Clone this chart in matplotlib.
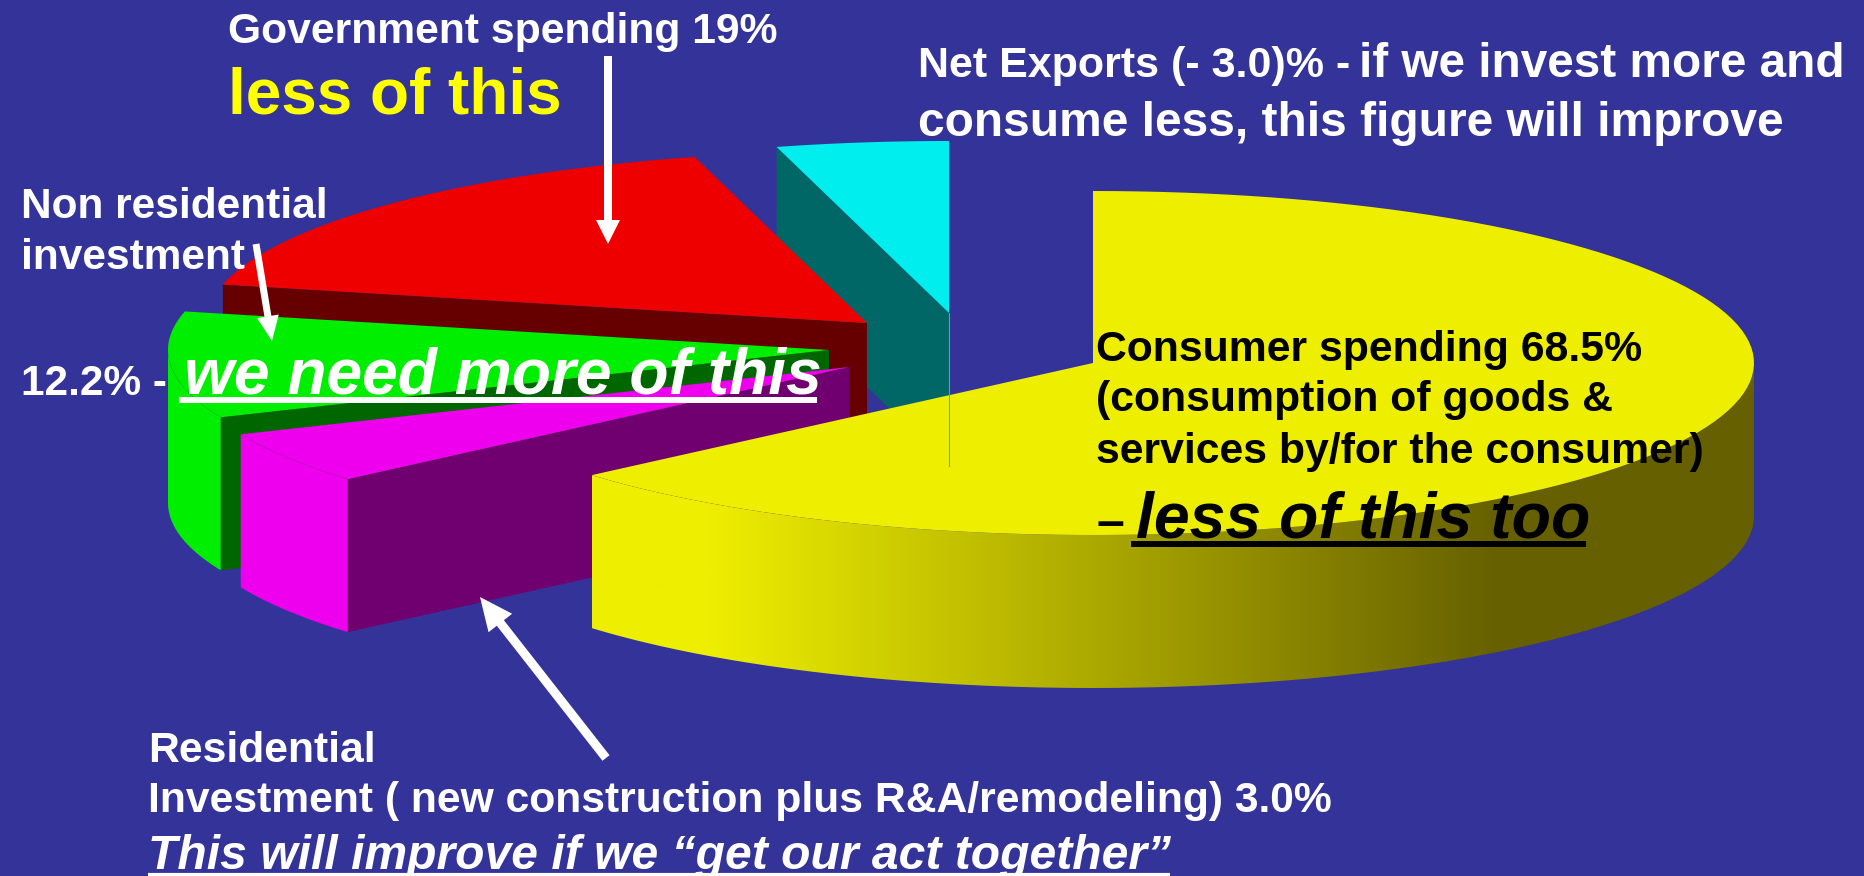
import numpy as np
import matplotlib
matplotlib.use("Agg")
import matplotlib.pyplot as plt
from matplotlib.colors import LinearSegmentedColormap

plt.rcParams['font.family'] = ['Liberation Sans', 'DejaVu Sans']

# slices clockwise from 12 o'clock, shares as drawn in the picture (percent of the circle)
categories = ['Consumer spending', 'Residential investment', 'Non residential investment',
              'Government spending', 'Net exports']
shares = [63.7, 4.9, 10.0, 17.2, 4.2]
top_colors = ['#EEEE00', '#EE00EE', '#00EE00', '#EE0000', '#00EEEE']
side_colors = ['#666000', '#700070', '#006600', '#660000', '#006666']
explode_x = [0, -244, -264, -226, -144]
explode_y = [0, 4, -13, -40, -50]

BG = '#333399'
CX, CY = 1093, 363
RX, RY = 661, 172
DEPTH = 153


def arc(a1, a2, cx, cy, n=120):
    a = np.radians(np.linspace(a1, a2, n))
    return cx + RX * np.sin(a), cy - RY * np.cos(a)


fig = plt.figure(figsize=(18.64, 8.76), dpi=100, facecolor=BG)
ax = fig.add_axes([0, 0, 1, 1])
ax.set_xlim(0, 1864)
ax.set_ylim(876, 0)
ax.axis('off')

ends = np.cumsum(shares) / sum(shares) * 360
starts = np.concatenate([[0], ends[:-1]])

# painter's order, back slices first
for i in [4, 3, 2, 1, 0]:
    cx, cy = CX + explode_x[i], CY + explode_y[i]
    a1, a2 = starts[i], ends[i]

    # cut face on the start side
    if i > 0:
        ox, oy = arc(a1, a1, cx, cy, 1)
        ax.fill([cx, ox[0], ox[0], cx], [cy, oy[0], oy[0] + DEPTH, cy + DEPTH],
                color=side_colors[i], lw=0, zorder=2)

    # outer rim, only the part facing the viewer
    r1, r2 = max(a1, 90), min(a2, 270)
    if r1 < r2:
        rx, ry = arc(r1, r2, cx, cy)
        px = np.concatenate([rx, rx[::-1]])
        py = np.concatenate([ry, ry[::-1] + DEPTH])
        if i == 0:
            poly = ax.fill(px, py, color='none', lw=0, zorder=2)[0]
            cmap = LinearSegmentedColormap.from_list(
                'rim', [(0, '#EEEE00'), (0.1, '#EEEE00'), (0.78, '#666000'), (1, '#666000')])
            im = ax.imshow(np.linspace(0, 1, 512).reshape(1, -1), cmap=cmap, aspect='auto',
                           extent=(px.min(), px.max(), py.max(), py.min()), zorder=2)
            im.set_clip_path(poly)
            ax.set_xlim(0, 1864)
            ax.set_ylim(876, 0)
        else:
            ax.fill(px, py, color=top_colors[i], lw=0, zorder=2)

    tx, ty = arc(a1, a2, cx, cy)
    ax.fill(np.concatenate([[cx], tx]), np.concatenate([[cy], ty]),
            color=top_colors[i], lw=0, zorder=3)

# thin seam of the net exports slice that shows through the yellow
nx, ny = CX + explode_x[4], CY + explode_y[4]
ax.plot([nx, nx], [ny, ny + DEPTH], color='#2FB8A8', lw=0.8, zorder=4)

# arrows
arrow = dict(length_includes_head=True, fc='white', ec='none', zorder=6)
ax.arrow(608, 56, 0, 188, width=8, head_width=24, head_length=24, **arrow)
ax.arrow(256, 244, 16, 97, width=7, head_width=22, head_length=25, **arrow)
ax.arrow(606, 758, -126, -161, width=9, head_width=30, head_length=33, **arrow)


def label(x, y, s, size, color='white', style='normal'):
    ax.text(x, y, s, fontsize=size, color=color, style=style, weight='bold',
            ha='left', va='baseline', zorder=7)


label(228, 43, 'Government spending 19%', 30.7)
label(228, 114, 'less of this', 46, color='#FFFF00')

label(918, 77, 'Net Exports (- 3.0)% -', 31)
label(1359, 77, 'if we invest more and', 34.4)
label(918, 136, 'consume less, this figure will improve', 34.5)

label(21, 218, 'Non residential', 30.5)
label(21, 269, 'investment', 30.5)
label(21, 395, '12.2% -', 30.5)
label(184, 393, 'we need more of this', 46.2, style='italic')
ax.plot([179, 817], [400, 400], color='white', lw=4.3, solid_capstyle='butt', zorder=7)

label(1096, 361, 'Consumer spending 68.5%', 30.8, color='black')
label(1096, 411, '(consumption of goods &', 30.8, color='black')
label(1096, 463, 'services by/for the consumer)', 30.8, color='black')
label(1096, 537, '–', 36, color='black')
label(1136, 537, 'less of this too', 46.4, color='black', style='italic')
ax.plot([1131, 1586], [544, 544], color='black', lw=4.3, solid_capstyle='butt', zorder=7)

label(148, 762, 'Residential', 30.7)
label(148, 812, 'Investment ( new construction plus R&A/remodeling) 3.0%', 30.7)
label(148, 869, 'This will improve if we “get our act together”', 34.6, style='italic')
ax.plot([148, 1170], [875, 875], color='white', lw=3, solid_capstyle='butt', zorder=7)

fig.savefig('out.png', dpi=100, facecolor=BG)
